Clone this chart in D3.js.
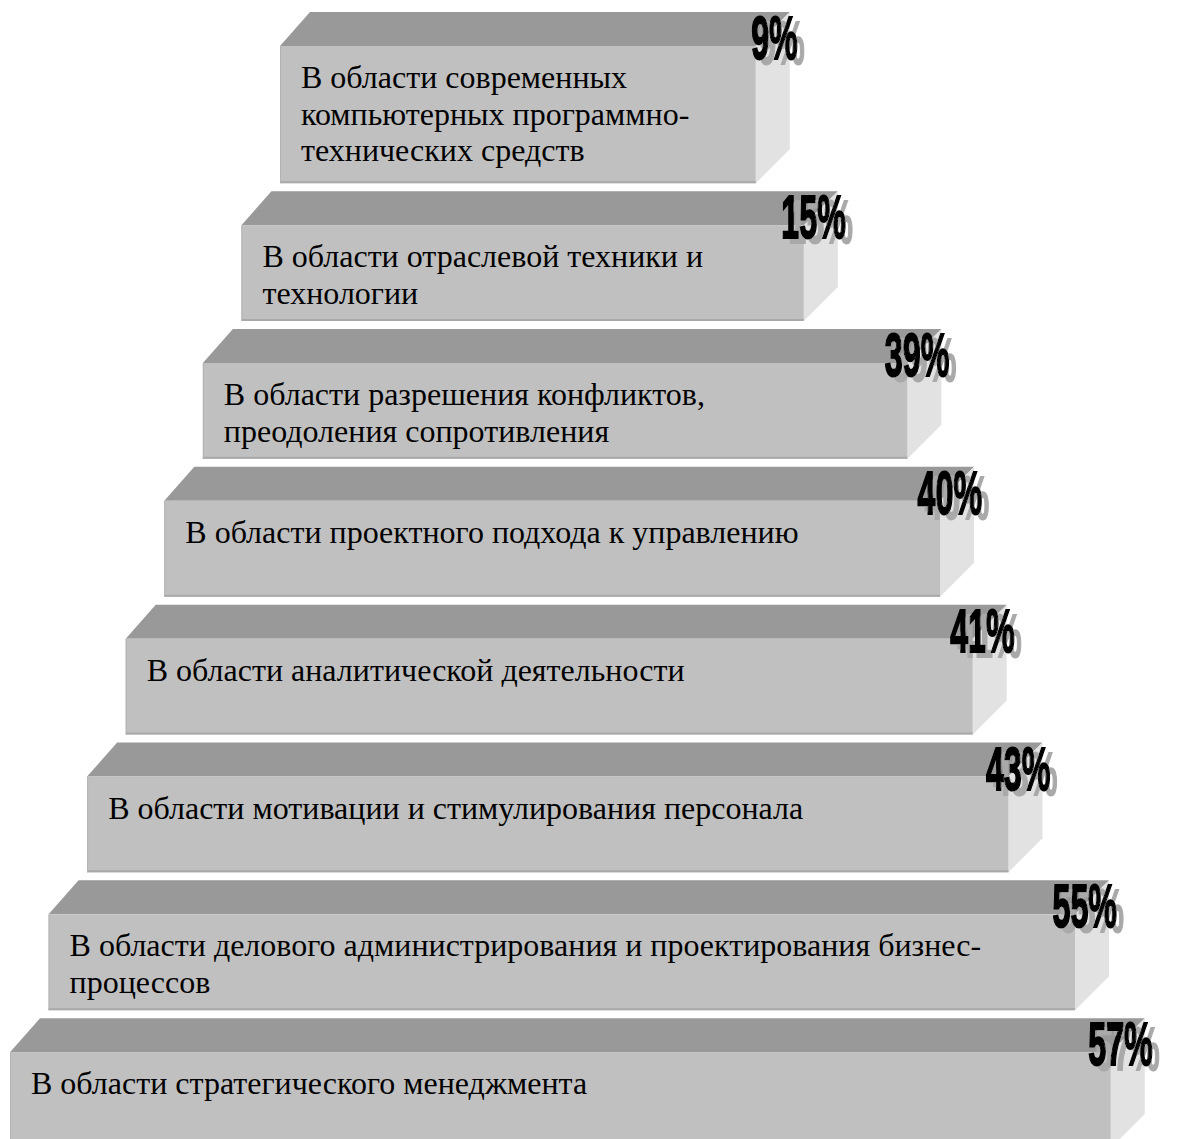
<!DOCTYPE html>
<html lang="ru">
<head>
  <meta charset="UTF-8">
  <title>Области компетенций</title>
  <style>
    body { margin: 0; background: #fff; overflow: hidden; }
    .cat { font-family: "Liberation Serif", "Times New Roman", serif; font-size: 32px; fill: #000; }
    .pct { font-family: "Liberation Sans", Arial, sans-serif; font-weight: bold; font-size: 62px; }
  </style>
</head>
<body>
  <script src="https://d3js.org/d3.v7.min.js"></script>
  <script>
    // данные (сверху вниз)
    const categories = [
      "В области современных\nкомпьютерных программно-\nтехнических средств",
      "В области отраслевой техники и\nтехнологии",
      "В области разрешения конфликтов,\nпреодоления сопротивления",
      "В области проектного подхода к управлению",
      "В области аналитической деятельности",
      "В области мотивации и стимулирования персонала",
      "В области делового администрирования и проектирования бизнес-\nпроцессов",
      "В области стратегического менеджмента"
    ];
    const values = [9, 15, 39, 40, 41, 43, 55, 57];

    const width = 1178, height = 1139;
    const depth = 34, slant = 30, gap = 8;
    const n = categories.length;

    const svg = d3.select("body").append("svg")
      .attr("width", width)
      .attr("height", height);

    const defs = svg.append("defs");
    // серая тень у процентов
    const f = defs.append("filter")
      .attr("id", "shadow")
      .attr("x", "-20%").attr("y", "-20%")
      .attr("width", "160%").attr("height", "160%");
    f.append("feOffset").attr("in", "SourceAlpha").attr("dx", 14).attr("dy", 5).attr("result", "off");
    f.append("feFlood").attr("flood-color", "#a9a9a9").attr("result", "col");
    f.append("feComposite").attr("in", "col").attr("in2", "off").attr("operator", "in").attr("result", "sh");
    const merge = f.append("feMerge");
    merge.append("feMergeNode").attr("in", "sh");
    merge.append("feMergeNode").attr("in", "SourceGraphic");

    const lines = categories.map(c => c.split("\n"));
    // бруски с тремя строками текста чуть выше
    const weights = lines.map(l => l.length > 2 ? 1.3 : 1);
    const cum = [0];
    weights.forEach((w, i) => cum.push(cum[i] + w));

    const y = d3.scaleLinear().domain([0, d3.sum(weights)]).range([12, 1156]);
    // ступени пирамиды: левый край уходит влево, правый вправо
    const left = d3.scaleLinear().domain([0, n - 1]).range([280, 10]);
    const step = d3.scaleLinear().domain([0, n - 1]).range([0, 207]);
    const x = d3.scaleLinear().domain([0, 60]).range([728, 913]);

    const bars = values.map((v, i) => {
      const top = y(cum[i]);
      const bottom = y(cum[i + 1]) - gap;
      return {
        i, v, lines: lines[i],
        L: left(i), R: step(i) + x(v),
        top, front: top + depth, bottom
      };
    });

    const g = svg.append("g");
    const bar = g.selectAll("g.bar").data(bars).join("g").attr("class", "bar");

    // верхняя грань
    bar.append("path")
      .attr("fill", "#999999")
      .attr("d", d => `M${d.L},${d.front}L${d.L + slant},${d.top}L${d.R + depth},${d.top}L${d.R},${d.front}Z`);

    // боковая грань
    bar.append("path")
      .attr("fill", "#e2e2e2")
      .attr("d", d => `M${d.R},${d.front}L${d.R + depth},${d.top}L${d.R + depth},${d.bottom - depth}L${d.R},${d.bottom}Z`);

    // передняя грань
    bar.append("rect")
      .attr("x", d => d.L)
      .attr("y", d => d.front)
      .attr("width", d => d.R - d.L)
      .attr("height", d => d.bottom - d.front)
      .attr("fill", "#c0c0c0");

    bar.append("line")
      .attr("x1", d => d.L).attr("x2", d => d.R)
      .attr("y1", d => d.bottom - 1).attr("y2", d => d.bottom - 1)
      .attr("stroke", "#a9a9a9").attr("stroke-width", 2);
    bar.append("line")
      .attr("x1", d => d.L + 0.5).attr("x2", d => d.L + 0.5)
      .attr("y1", d => d.front).attr("y2", d => d.bottom)
      .attr("stroke", "#b2b2b2").attr("stroke-width", 1);

    // обрезка текста по передней грани
    bar.append("clipPath")
      .attr("id", d => "clip" + d.i)
      .append("rect")
      .attr("x", d => d.L)
      .attr("y", d => d.front)
      .attr("width", d => d.R - d.L)
      .attr("height", d => d.bottom - d.front - 2);

    bar.append("text")
      .attr("class", "cat")
      .attr("clip-path", d => `url(#clip${d.i})`)
      .selectAll("tspan")
      .data(d => d.lines.map((t, k) => ({ t, k, d })))
      .join("tspan")
      .attr("x", o => o.d.L + 21)
      .attr("y", o => o.d.front + 42 + o.k * 36.5)
      .text(o => o.t);

    // подписи процентов
    bar.append("text")
      .attr("class", "pct")
      .attr("text-anchor", "end")
      .attr("fill", "#000")
      .attr("stroke", "#000")
      .attr("stroke-width", 2)
      .attr("filter", "url(#shadow)")
      .attr("transform", d => `translate(${d.R + depth + 8},${d.front + 13}) scale(0.52,1)`)
      .text(d => d.v + "%");
  </script>
</body>
</html>
